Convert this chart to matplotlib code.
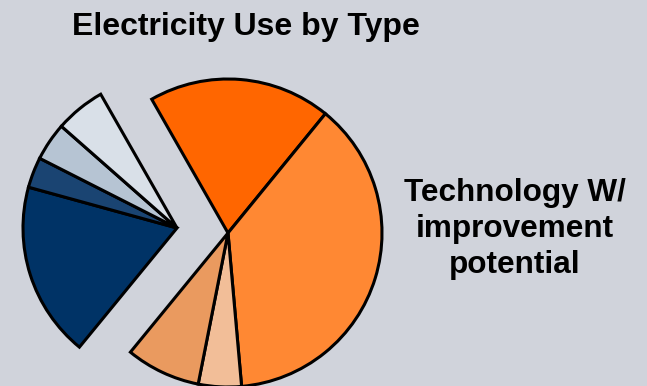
import matplotlib
matplotlib.use("Agg")
import matplotlib.pyplot as plt

# Anteile (in %), im Uhrzeigersinn ab 119.7°
labels = ["Typ A", "Typ B", "Typ C", "Typ D", "Typ E", "Typ F", "Typ G", "Typ H"]
shares = [19.1, 37.6, 4.5, 7.8, 18.3, 3.2, 4.0, 5.25]
groups = ["tech", "tech", "tech", "tech", "other", "other", "other", "other"]
colors = ["#FF6600", "#FF8833", "#F2BE98", "#EA9A5F",
          "#003366", "#1A4472", "#B6C4D3", "#D9E0E8"]

bg = "#D0D3DB"
px = 154.0  # Pixel pro Radius

fig = plt.figure(figsize=(6.47, 3.86), dpi=100, facecolor=bg)
ax = fig.add_axes([0, 0, 1, 1])
ax.set_facecolor(bg)

wedges, _ = ax.pie(shares, colors=colors, startangle=119.7, counterclock=False,
                   radius=1.0, wedgeprops=dict(edgecolor="black", linewidth=2.2))

# Gruppen getrennt verschieben
offsets = {"tech": (0.0, 0.0), "other": (-51 / px, 5 / px)}
for w, g in zip(wedges, groups):
    w.set_center(offsets[g])

ax.set_xlim(-228 / px, (647 - 228) / px)
ax.set_ylim((233 - 386) / px, 233 / px)
ax.set_aspect("equal")
ax.axis("off")

font = "Liberation Sans"
fig.text(246 / 647, 1 - 27 / 386, "Electricity Use by Type", ha="center", va="center",
         fontsize=23, fontweight="bold", family=font)
fig.text(515 / 647, 1 - 229 / 386, "Technology W/\nimprovement\npotential",
         ha="center", va="center", fontsize=22.7, fontweight="bold", family=font,
         linespacing=1.27)

fig.savefig("out.png", dpi=100, facecolor=bg)
